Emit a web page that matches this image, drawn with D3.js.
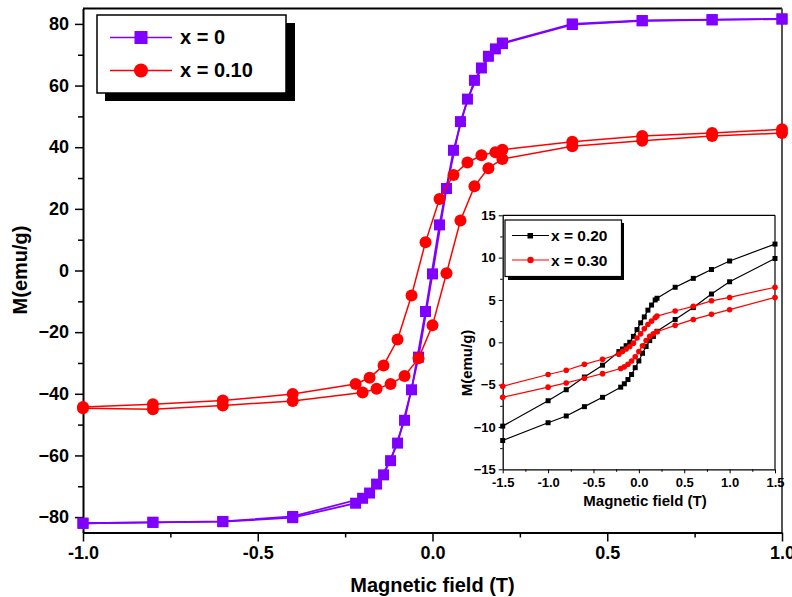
<!DOCTYPE html>
<html>
<head>
<meta charset="utf-8">
<script src="https://cdn.jsdelivr.net/npm/d3@7"></script>
<style>
body { margin: 0; background: #fff; }
svg { font-family: Arial, "Liberation Sans", sans-serif; font-weight: bold; }
.axis text { font-weight: bold; fill: #000; }
.axis line, .axis path { stroke: #000; }
</style>
</head>
<body>
<svg width="792" height="597"></svg>
<script>
// main loop, field swept 1 -> -1 then back -1 -> 1
var fieldDown = [1.0, 0.8, 0.6, 0.4, 0.2, 0.18, 0.14, 0.1, 0.06, 0.02, -0.02, -0.06, -0.1, -0.14, -0.18, -0.22, -0.4, -0.6, -0.8, -1.0];
var fieldUp = [-1.0, -0.8, -0.6, -0.4, -0.2, -0.16, -0.12, -0.08, -0.04, 0, 0.04, 0.08, 0.12, 0.16, 0.2, 0.4, 0.6, 0.8, 1.0];

var m0Down = [81.6, 81.4, 81.1, 80.0, 73.8, 71.9, 65.7, 55.6, 39.0, 14.8, -13.3, -38.7, -56.0, -66.3, -72.2, -75.5, -80.2, -81.5, -81.7, -82.0];
var m0Up = [-82.0, -81.7, -81.4, -79.8, -73.9, -69.3, -61.7, -48.6, -28.1, -1.1, 26.6, 48.3, 61.7, 69.5, 73.6, 79.8, 81.0, 81.3, 81.6];

var m10Down = [45.8, 44.6, 43.6, 41.8, 39.2, 38.4, 37.4, 35.0, 31.0, 23.2, 9.2, -8.1, -22.4, -30.8, -34.8, -36.8, -40.1, -42.2, -43.4, -44.3];
var m10Up = [-44.7, -45.0, -43.8, -42.3, -39.6, -38.4, -36.8, -34.2, -28.5, -17.8, -0.9, 16.2, 27.3, 33.2, 36.2, 40.3, 42.1, 43.6, 44.6];

var mainXTicks = [-1.0, -0.5, 0.0, 0.5, 1.0];
var mainXMinor = [-0.75, -0.25, 0.25, 0.75];
var mainYTicks = [-80, -60, -40, -20, 0, 20, 40, 60, 80];
var mainYMinor = [-70, -50, -30, -10, 10, 30, 50, 70];

// inset loop
var insetDown = [1.5, 1.0, 0.8, 0.6, 0.4, 0.2, 0.18, 0.14, 0.1, 0.06, 0.02, -0.02, -0.06, -0.1, -0.14, -0.18, -0.22, -0.4, -0.6, -0.8, -1.0, -1.5];
var insetUp = [-1.5, -1.0, -0.8, -0.6, -0.4, -0.2, -0.16, -0.12, -0.08, -0.04, 0, 0.04, 0.08, 0.12, 0.16, 0.2, 0.4, 0.6, 0.8, 1.0, 1.5];

var m20Down = [11.6, 9.6, 8.6, 7.55, 6.5, 5.2, 5.0, 4.4, 3.8, 3.0, 2.3, 1.5, 0.7, 0.0, -0.4, -0.8, -1.1, -2.7, -4.1, -5.6, -6.9, -9.9];
var m20Up = [-11.6, -9.5, -8.7, -7.6, -6.5, -5.3, -4.9, -4.4, -3.8, -3.0, -2.2, -1.3, -0.5, 0.2, 0.7, 1.3, 2.7, 4.1, 5.7, 7.15, 9.9];

var m30Down = [6.5, 5.3, 4.9, 4.25, 3.7, 3.1, 2.9, 2.5, 2.1, 1.6, 1.0, 0.5, -0.1, -0.5, -0.8, -1.1, -1.4, -2.0, -2.6, -3.3, -3.8, -5.2];
var m30Up = [-6.5, -5.3, -4.8, -4.25, -3.7, -3.1, -2.9, -2.6, -2.2, -1.7, -1.1, -0.4, 0.2, 0.7, 1.0, 1.25, 2.0, 2.7, 3.3, 3.85, 5.3];

var insetXTicks = [-1.5, -1.0, -0.5, 0.0, 0.5, 1.0, 1.5];
var insetXMinor = [-1.25, -0.75, -0.25, 0.25, 0.75, 1.25];
var insetYTicks = [-15, -10, -5, 0, 5, 10, 15];
var insetYMinor = [-12.5, -7.5, -2.5, 2.5, 7.5, 12.5];

var purple = "#7f00ff", red = "#ff0000";

function pts(fs, ms) {
    return fs.map(function(f, i) { return {h: f, m: ms[i]}; });
}

var svg = d3.select("svg");

// ---------- main plot ----------
var x = d3.scaleLinear().domain([-1, 1]).range([83, 782]),
    y = d3.scaleLinear().domain([-85, 85]).range([532.5, 8.5]);

var fmt1 = function(d) { return d.toFixed(1); };

svg.append("line").attr("x1", 83).attr("x2", 782).attr("y1", 8.5).attr("y2", 8.5)
    .attr("stroke", "#000").attr("stroke-width", 2);
svg.append("line").attr("x1", 782).attr("x2", 782).attr("y1", 8.5).attr("y2", 532.5)
    .attr("stroke", "#555").attr("stroke-width", 2);

var gx = svg.append("g").attr("class", "axis")
    .attr("transform", "translate(0,532.5)")
    .call(d3.axisBottom(x).tickValues(mainXTicks).tickSize(9).tickSizeOuter(0).tickPadding(5).tickFormat(fmt1));
gx.append("g").call(d3.axisBottom(x).tickValues(mainXMinor).tickSize(5).tickFormat(""))
    .select(".domain").remove();
gx.selectAll("text").style("font-size", "18px");

var gy = svg.append("g").attr("class", "axis")
    .attr("transform", "translate(83,0)")
    .call(d3.axisLeft(y).tickValues(mainYTicks).tickSize(8).tickSizeOuter(0).tickPadding(6));
gy.append("g").call(d3.axisLeft(y).tickValues(mainYMinor).tickSize(5).tickFormat(""))
    .select(".domain").remove();
gy.selectAll("text").style("font-size", "18px");

svg.selectAll(".axis .domain").attr("stroke-width", 2);
svg.selectAll(".axis line").attr("stroke-width", 1.5);

svg.append("text")
    .attr("x", 432.5).attr("y", 592)
    .attr("text-anchor", "middle")
    .style("font-size", "20px")
    .text("Magnetic field (T)");

svg.append("text")
    .attr("transform", "translate(27,270) rotate(-90)")
    .attr("text-anchor", "middle")
    .style("font-size", "20px")
    .text("M(emu/g)");

var line = d3.line()
    .x(function(d) { return x(d.h); })
    .y(function(d) { return y(d.m); });

function drawSquares(g, data, sx, sy, size, color) {
    g.selectAll(null).data(data).enter().append("rect")
        .attr("x", function(d) { return sx(d.h) - size / 2; })
        .attr("y", function(d) { return sy(d.m) - size / 2; })
        .attr("width", size).attr("height", size)
        .attr("fill", color);
}

function drawCircles(g, data, sx, sy, r, color) {
    g.selectAll(null).data(data).enter().append("circle")
        .attr("cx", function(d) { return sx(d.h); })
        .attr("cy", function(d) { return sy(d.m); })
        .attr("r", r)
        .attr("fill", color);
}

var plot = svg.append("g");

[pts(fieldDown, m0Down), pts(fieldUp, m0Up)].forEach(function(s) {
    plot.append("path").attr("d", line(s)).attr("fill", "none")
        .attr("stroke", purple).attr("stroke-width", 1.8);
    drawSquares(plot, s, x, y, 11, purple);
});

[pts(fieldDown, m10Down), pts(fieldUp, m10Up)].forEach(function(s) {
    plot.append("path").attr("d", line(s)).attr("fill", "none")
        .attr("stroke", red).attr("stroke-width", 1.5);
    drawCircles(plot, s, x, y, 6, red);
});

// main legend
var leg = svg.append("g");
leg.append("rect").attr("x", 105).attr("y", 23).attr("width", 190).attr("height", 78).attr("fill", "#000");
leg.append("rect").attr("x", 97).attr("y", 15).attr("width", 189).attr("height", 78)
    .attr("fill", "#fff").attr("stroke", "#000").attr("stroke-width", 1.5);
leg.append("line").attr("x1", 110).attr("x2", 172).attr("y1", 37.5).attr("y2", 37.5)
    .attr("stroke", purple).attr("stroke-width", 1.5);
leg.append("rect").attr("x", 134.5).attr("y", 31).attr("width", 13).attr("height", 13).attr("fill", purple);
leg.append("line").attr("x1", 110).attr("x2", 172).attr("y1", 70.5).attr("y2", 70.5)
    .attr("stroke", red).attr("stroke-width", 1.5);
leg.append("circle").attr("cx", 141).attr("cy", 70.5).attr("r", 7).attr("fill", red);
leg.append("text").attr("x", 180).attr("y", 44).style("font-size", "20px").text("x = 0");
leg.append("text").attr("x", 180).attr("y", 77).style("font-size", "20px").text("x = 0.10");

// ---------- inset ----------
var xi = d3.scaleLinear().domain([-1.5, 1.5]).range([502.7, 775]),
    yi = d3.scaleLinear().domain([-15, 15]).range([469.3, 215.3]);

svg.append("line").attr("x1", 502.7).attr("x2", 775).attr("y1", 215.3).attr("y2", 215.3)
    .attr("stroke", "#000").attr("stroke-width", 1.2);
svg.append("line").attr("x1", 775).attr("x2", 775).attr("y1", 215.3).attr("y2", 469.3)
    .attr("stroke", "#000").attr("stroke-width", 1.2);

var gxi = svg.append("g").attr("class", "axis")
    .attr("transform", "translate(0,469.3)")
    .call(d3.axisBottom(xi).tickValues(insetXTicks).tickSize(4).tickSizeOuter(0).tickPadding(4).tickFormat(fmt1));
gxi.append("g").call(d3.axisBottom(xi).tickValues(insetXMinor).tickSize(2.5).tickFormat(""))
    .select(".domain").remove();
gxi.selectAll("text").style("font-size", "13px");

var gyi = svg.append("g").attr("class", "axis")
    .attr("transform", "translate(502.7,0)")
    .call(d3.axisLeft(yi).tickValues(insetYTicks).tickSize(4).tickSizeOuter(0).tickPadding(3));
gyi.append("g").call(d3.axisLeft(yi).tickValues(insetYMinor).tickSize(2.5).tickFormat(""))
    .select(".domain").remove();
gyi.selectAll("text").style("font-size", "13px");

gxi.select(".domain").attr("stroke-width", 1.3);
gyi.select(".domain").attr("stroke-width", 1.3);
gxi.selectAll("line").attr("stroke-width", 1);
gyi.selectAll("line").attr("stroke-width", 1);

svg.append("text")
    .attr("x", 645).attr("y", 506)
    .attr("text-anchor", "middle")
    .style("font-size", "15px")
    .text("Magnetic field (T)");

svg.append("text")
    .attr("transform", "translate(472,363) rotate(-90)")
    .attr("text-anchor", "middle")
    .style("font-size", "15px")
    .text("M(emu/g)");

var linei = d3.line()
    .x(function(d) { return xi(d.h); })
    .y(function(d) { return yi(d.m); });

var inset = svg.append("g");

[pts(insetDown, m20Down), pts(insetUp, m20Up)].forEach(function(s) {
    inset.append("path").attr("d", linei(s)).attr("fill", "none")
        .attr("stroke", "#000").attr("stroke-width", 1.2);
    drawSquares(inset, s, xi, yi, 5, "#000");
});

[pts(insetDown, m30Down), pts(insetUp, m30Up)].forEach(function(s) {
    inset.append("path").attr("d", linei(s)).attr("fill", "none")
        .attr("stroke", red).attr("stroke-width", 1.2);
    drawCircles(inset, s, xi, yi, 2.8, red);
});

// inset legend
var legi = svg.append("g");
legi.append("rect").attr("x", 508).attr("y", 223).attr("width", 116).attr("height", 57).attr("fill", "#000");
legi.append("rect").attr("x", 505).attr("y", 220).attr("width", 116.5).attr("height", 56.5)
    .attr("fill", "#fff").attr("stroke", "#000").attr("stroke-width", 1.2);
legi.append("line").attr("x1", 512).attr("x2", 549).attr("y1", 235.5).attr("y2", 235.5)
    .attr("stroke", "#000").attr("stroke-width", 1.2);
legi.append("rect").attr("x", 527.5).attr("y", 233).attr("width", 5.5).attr("height", 5.5).attr("fill", "#000");
legi.append("line").attr("x1", 512).attr("x2", 549).attr("y1", 260).attr("y2", 260)
    .attr("stroke", red).attr("stroke-width", 1.2);
legi.append("circle").attr("cx", 530.5).attr("cy", 260).attr("r", 3.2).attr("fill", red);
legi.append("text").attr("x", 551).attr("y", 241).style("font-size", "15.5px").text("x = 0.20");
legi.append("text").attr("x", 551).attr("y", 265.5).style("font-size", "15.5px").text("x = 0.30");
</script>
</body>
</html>
